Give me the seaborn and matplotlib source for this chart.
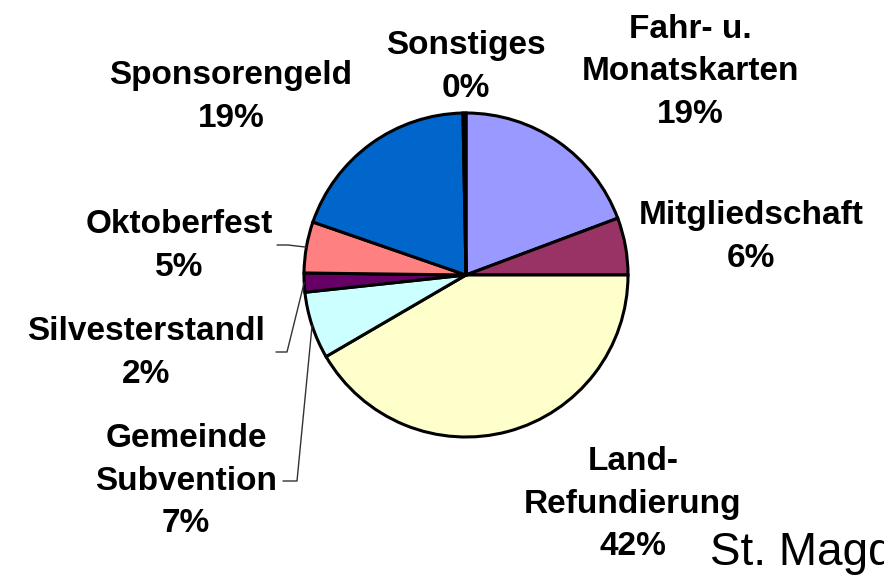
import numpy as np
import matplotlib
matplotlib.use("Agg")
import matplotlib.pyplot as plt
import seaborn as sns

# ---- data ----
categories = ["Fahr- u.\nMonatskarten", "Mitgliedschaft", "Land-\nRefundierung",
              "Gemeinde\nSubvention", "Silvesterstandl", "Oktoberfest",
              "Sponsorengeld", "Sonstiges"]
shares = [19.3, 5.7, 41.6, 6.7, 1.9, 5.1, 19.4, 0.3]
colors = ["#9999FF", "#993366", "#FFFFCC", "#CCFFFF", "#660066", "#FF8080",
          "#0066CC", "#000000"]
footer = "St. Magdalena"

sns.set_theme(style="white")
plt.rcParams['font.family'] = ['Liberation Sans', 'DejaVu Sans']

W, H = 884, 575
fig = plt.figure(figsize=(W / 100, H / 100), dpi=100)
ax = fig.add_axes([0, 0, 1, 1])

def py(y):
    return H - y

cx, cy, r = 466, 275, 162
wedges, _ = ax.pie(shares, colors=colors, startangle=90, counterclock=False,
                   center=(cx, py(cy)), radius=r, frame=True,
                   wedgeprops=dict(edgecolor="black", linewidth=2.2))
ax.set_xlim(0, W)
ax.set_ylim(0, H)
ax.axis("off")
ax.set_aspect("equal")

# label layout (pixel positions of text centres)
label_pos = {
    "Fahr- u.\nMonatskarten": (690, 72),
    "Mitgliedschaft": (751, 237),
    "Land-\nRefundierung": (633, 504),
    "Gemeinde\nSubvention": (186, 481),
    "Silvesterstandl": (146, 353),
    "Oktoberfest": (179, 246),
    "Sponsorengeld": (231, 97),
    "Sonstiges": (466, 67),
}
# leader lines: (text-side x, y, elbow x)
leaders = {
    "Oktoberfest": (277, 245, 288),
    "Silvesterstandl": (276, 352, 287),
    "Gemeinde\nSubvention": (283, 481, 297),
}

for w, cat, val in zip(wedges, categories, shares):
    x, y = label_pos[cat]
    ax.text(x, py(y), f"{cat}\n{val:.0f}%", ha="center", va="center",
            fontsize=24, fontweight="bold", linespacing=1.48, color="black")
    if cat in leaders:
        tx, ty, ex = leaders[cat]
        mid = np.deg2rad((w.theta1 + w.theta2) / 2)
        wx = cx + r * np.cos(mid)
        wy = py(cy) + r * np.sin(mid)
        ax.plot([tx, ex, wx], [py(ty), py(ty), wy], color="#333333", lw=1.0)

ax.text(710, py(565), footer, ha="left", va="baseline", fontsize=33,
        color="black")

fig.savefig("out.png", dpi=100)
